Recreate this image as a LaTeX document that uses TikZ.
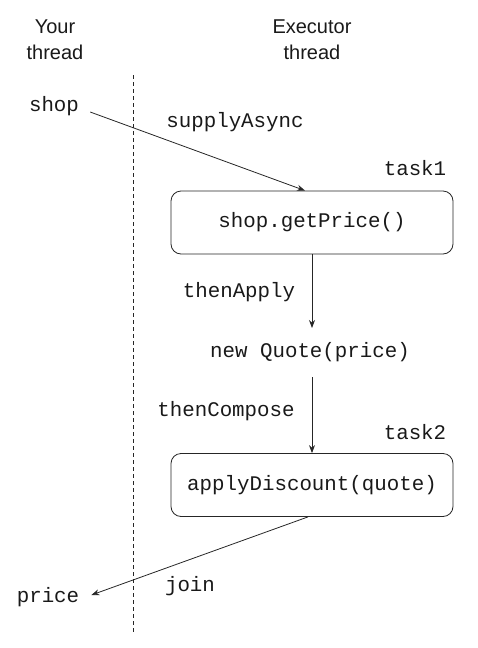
\documentclass[tikz,border=0pt]{standalone}
\usepackage{fontspec}
\setmainfont{Liberation Sans}
\setmonofont{Liberation Mono}
\usetikzlibrary{arrows.meta}
\tikzset{
  hdr/.style={align=center, inner sep=0pt, anchor=north, font=\fontsize{20}{26}\selectfont, text=black!90},
  code/.style={inner sep=0pt, font=\ttfamily\fontsize{20.8}{24}\selectfont, text=black!90},
  taskbox/.style={draw=black!85, line width=0.8pt, rounded corners=10pt, minimum width=282pt, minimum height=63pt, inner sep=0pt},
  conn/.style={draw=black!85, line width=0.8pt, -{Stealth[length=8pt,width=6pt]}},
  sep/.style={draw=black!85, line width=0.8pt, dash pattern=on 4pt off 3pt}
}
\begin{document}
\begin{tikzpicture}[x=1pt,y=-1pt]
\useasboundingbox (0,0) rectangle (478,648);
\node[hdr] (h1) at (55,19.5) {Your\\thread};
\node[hdr] (h2) at (312,19.5) {Executor\\thread};
\coordinate (d1) at (133,75);
\coordinate (d2) at (133,632);
\draw[sep] (d1) -- (d2);
\node[code] (shop) at (54,106) {shop};
\node[code] (sa) at (235,122) {supplyAsync};
\node[code] (t1) at (415,168) {task1};
\node[taskbox] (b1) at (312,222.5) {};
\node[code] at (b1.center) (b1t) {shop.getPrice()};
\node[code] (ta) at (239,292) {thenApply};
\node[code] (nq) at (310,352) {new Quote(price)};
\node[code] (tc) at (226,411) {thenCompose};
\node[code] (t2) at (415,432) {task2};
\node[taskbox] (b2) at (312,485) {};
\node[code] at (b2.center) (b2t) {applyDiscount(quote)};
\node[code] (pr) at (48,597) {price};
\node[code] (jn) at (190,586) {join};
\coordinate (nqin) at (312,328);
\coordinate (nqout) at (312,377);
\draw[conn] ([xshift=11pt,yshift=-6pt]shop.east) -- ([xshift=-7pt]b1.north);
\draw[conn] (b1.south) -- (nqin);
\draw[conn] (nqout) -- (b2.north);
\draw[conn] ([xshift=-4pt]b2.south) -- ([xshift=12pt,yshift=2pt]pr.east);
\end{tikzpicture}
\end{document}
